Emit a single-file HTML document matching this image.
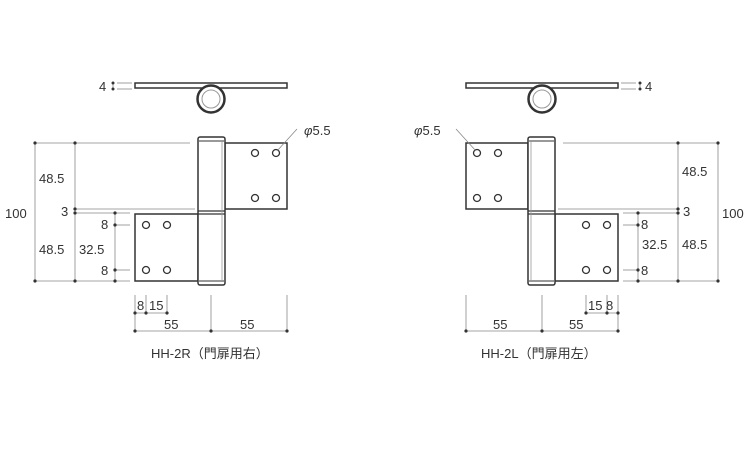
<!DOCTYPE html>
<html><head><meta charset="utf-8"><style>
body{margin:0;background:#fff}
text{font-family:"Liberation Sans","Noto Sans CJK JP",sans-serif;font-size:13px;fill:#333}
</style></head><body>
<svg width="750" height="450" viewBox="0 0 750 450" xmlns="http://www.w3.org/2000/svg">
<defs>
<g id="h">
 <!-- top view -->
 <rect x="135" y="83" width="152" height="5" fill="#fff" stroke="#333" stroke-width="1.5"/>
 <circle cx="211" cy="99" r="13.5" fill="#fff" stroke="#333" stroke-width="2.5"/>
 <circle cx="211" cy="99" r="9" fill="none" stroke="#999" stroke-width="1"/>
 <g stroke="#888" stroke-width="0.8">
  <line x1="117" y1="83" x2="132" y2="83"/><line x1="117" y1="89" x2="132" y2="89"/>
  <line x1="113" y1="83" x2="113" y2="89"/>
 </g>
 <circle cx="113" cy="83" r="1.5" fill="#333"/><circle cx="113" cy="89" r="1.5" fill="#333"/>
 <!-- leaves -->
 <rect x="225" y="143" width="62" height="66" fill="#fff" stroke="#333" stroke-width="1.5"/>
 <rect x="135" y="214" width="63" height="67" fill="#fff" stroke="#333" stroke-width="1.5"/>
 <rect x="198" y="137" width="27" height="148" rx="2" fill="#fff" stroke="#333" stroke-width="1.5"/>
 <line x1="199" y1="141" x2="224" y2="141" stroke="#333"/>
 <line x1="199" y1="281" x2="224" y2="281" stroke="#333"/>
 <line x1="198" y1="211" x2="225" y2="211" stroke="#333" stroke-width="1.2"/>
 <line x1="198" y1="214" x2="225" y2="214" stroke="#333" stroke-width="1.2"/>
 <line x1="222" y1="141" x2="222" y2="281" stroke="#999" stroke-width="0.8"/>
 <g fill="none" stroke="#333" stroke-width="1.3">
  <circle cx="255" cy="153" r="3.5"/><circle cx="276" cy="153" r="3.5"/>
  <circle cx="255" cy="198" r="3.5"/><circle cx="276" cy="198" r="3.5"/>
  <circle cx="146" cy="225" r="3.5"/><circle cx="167" cy="225" r="3.5"/>
  <circle cx="146" cy="270" r="3.5"/><circle cx="167" cy="270" r="3.5"/>
 </g>
 <!-- dims -->
 <g stroke="#888" stroke-width="0.8">
  <line x1="35" y1="143" x2="190" y2="143"/>
  <line x1="75" y1="209" x2="195" y2="209"/>
  <line x1="75" y1="213" x2="130" y2="213"/>
  <line x1="35" y1="281" x2="130" y2="281"/>
  <line x1="35" y1="143" x2="35" y2="281"/>
  <line x1="75" y1="143" x2="75" y2="281"/>
  <line x1="115" y1="213" x2="115" y2="281"/>
  <line x1="115" y1="225" x2="130" y2="225"/>
  <line x1="115" y1="270" x2="130" y2="270"/>
  <line x1="135" y1="295" x2="135" y2="331"/>
  <line x1="146" y1="295" x2="146" y2="313"/>
  <line x1="167" y1="295" x2="167" y2="313"/>
  <line x1="211" y1="295" x2="211" y2="331"/>
  <line x1="287" y1="295" x2="287" y2="331"/>
  <line x1="135" y1="313" x2="167" y2="313"/>
  <line x1="135" y1="331" x2="287" y2="331"/>
  <line x1="297" y1="129" x2="277" y2="151"/>
 </g>
 <g fill="#333">
  <circle cx="35" cy="143" r="1.6"/><circle cx="35" cy="281" r="1.6"/>
  <circle cx="75" cy="143" r="1.6"/><circle cx="75" cy="209" r="1.6"/><circle cx="75" cy="213" r="1.6"/><circle cx="75" cy="281" r="1.6"/>
  <circle cx="115" cy="213" r="1.6"/><circle cx="115" cy="225" r="1.6"/><circle cx="115" cy="270" r="1.6"/><circle cx="115" cy="281" r="1.6"/>
  <circle cx="135" cy="313" r="1.6"/><circle cx="146" cy="313" r="1.6"/><circle cx="167" cy="313" r="1.6"/>
  <circle cx="135" cy="331" r="1.6"/><circle cx="211" cy="331" r="1.6"/><circle cx="287" cy="331" r="1.6"/>
 </g>
</g>
</defs>
<use href="#h"/>
<use href="#h" transform="translate(753,0) scale(-1,1)"/>
<!-- left labels -->
<text x="99" y="91">4</text>
<text x="304" y="135"><tspan font-style="italic">φ</tspan>5.5</text>
<text x="5" y="218">100</text>
<text x="39" y="183">48.5</text>
<text x="61" y="216">3</text>
<text x="39" y="254">48.5</text>
<text x="79" y="254">32.5</text>
<text x="101" y="229">8</text>
<text x="101" y="275">8</text>
<text x="137" y="310">8</text>
<text x="149" y="310">15</text>
<text x="164" y="329">55</text>
<text x="240" y="329">55</text>
<text x="151" y="358">HH-2R（門扉用右）</text>
<!-- right labels -->
<text x="645" y="91">4</text>
<text x="414" y="135"><tspan font-style="italic">φ</tspan>5.5</text>
<text x="722" y="218">100</text>
<text x="682" y="176">48.5</text>
<text x="683" y="216">3</text>
<text x="682" y="249">48.5</text>
<text x="642" y="249">32.5</text>
<text x="641" y="229">8</text>
<text x="641" y="275">8</text>
<text x="588" y="310">15</text>
<text x="606" y="310">8</text>
<text x="493" y="329">55</text>
<text x="569" y="329">55</text>
<text x="481" y="358">HH-2L（門扉用左）</text>
</svg>
</body></html>
